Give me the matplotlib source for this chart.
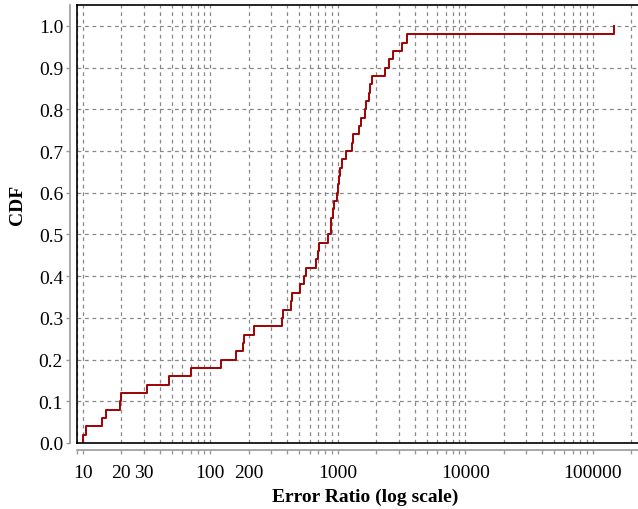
import numpy as np
import matplotlib
matplotlib.use("Agg")
from matplotlib import pyplot as plt
from matplotlib.ticker import FixedLocator, FixedFormatter, LogLocator, NullFormatter

# error ratios where the CDF steps up (sorted)
error_ratio = [10.1, 10.6, 14.2, 15.1, 19.6, 19.9, 31.7, 47.2, 71.0, 121,
               158, 179, 184, 221, 367, 374, 427, 435, 505, 546,
               563, 671, 696, 716, 842, 880, 889, 922, 933, 980,
               998, 1016, 1040, 1079, 1159, 1292, 1323, 1474, 1512, 1634,
               1663, 1757, 1788, 1865, 2344, 2521, 2711, 3171, 3471, 147000]

x_ticks = [10, 20, 30, 100, 200, 1000, 10000, 100000]
x_tick_labels = ["10", "20", "30", "100", "200", "1000", "10000", "100000"]
y_ticks = [0.0, 0.1, 0.2, 0.3, 0.4, 0.5, 0.6, 0.7, 0.8, 0.9, 1.0]

plt.rcParams['font.family'] = ['Liberation Serif', 'DejaVu Serif']
plt.rcParams['font.size'] = 14

n = len(error_ratio)
xs = np.array([error_ratio[0]] + error_ratio)
ys = np.array([0.0] + [(i + 1) / n for i in range(n)])

fig = plt.figure(figsize=(6.38, 5.10), dpi=100)
ax = fig.add_axes([77 / 638, 66 / 510, 576.6 / 638, 438 / 510])

ax.step(xs, ys, where='post', color='#a00000', lw=1.4, zorder=3)

ax.set_xscale('log')
ax.set_xlim(9, 300000)
ax.set_ylim(0, 1.05)

# grid: every decade and its minor positions
ax.xaxis.set_minor_locator(LogLocator(base=10, subs=np.arange(2, 10)))
ax.xaxis.set_minor_formatter(NullFormatter())
ax.xaxis.set_major_locator(FixedLocator(x_ticks))
ax.xaxis.set_major_formatter(FixedFormatter(x_tick_labels))
ax.set_yticks(y_ticks)
ax.set_yticklabels([f"{v:.1f}" for v in y_ticks])

grid_kw = dict(color='#888888', linestyle=(0, (3, 3)), linewidth=0.9)
ax.grid(True, which='major', axis='both', **grid_kw)
ax.grid(True, which='minor', axis='x', **grid_kw)

# gray offset axes lines like the original
for side in ['left', 'bottom']:
    ax.spines[side].set_position(('outward', 5))
    ax.spines[side].set_color('#999999')
    ax.spines[side].set_linewidth(1.2)
ax.spines['right'].set_visible(False)
ax.spines['top'].set_color('black')
ax.spines['top'].set_linewidth(1.2)

# black frame lines at the plot border
ax.plot([0, 0], [0, 1], transform=ax.transAxes, color='black', lw=1.2, clip_on=False, zorder=4)
ax.plot([0, 1], [0, 0], transform=ax.transAxes, color='black', lw=1.2, clip_on=False, zorder=4)

ax.tick_params(axis='both', which='both', direction='out', color='#999999', width=1.0)
ax.tick_params(axis='both', which='major', length=3, labelsize=14)
ax.tick_params(axis='x', which='minor', length=3)
ax.tick_params(axis='y', pad=2)
ax.tick_params(axis='x', pad=7)

ax.set_xlabel("Error Ratio (log scale)", fontweight='bold', fontsize=14, labelpad=5)
ax.set_ylabel("CDF", fontweight='bold', fontsize=14)
ax.yaxis.set_label_coords(-0.088, 0.546)

fig.savefig("out.png", dpi=100)
